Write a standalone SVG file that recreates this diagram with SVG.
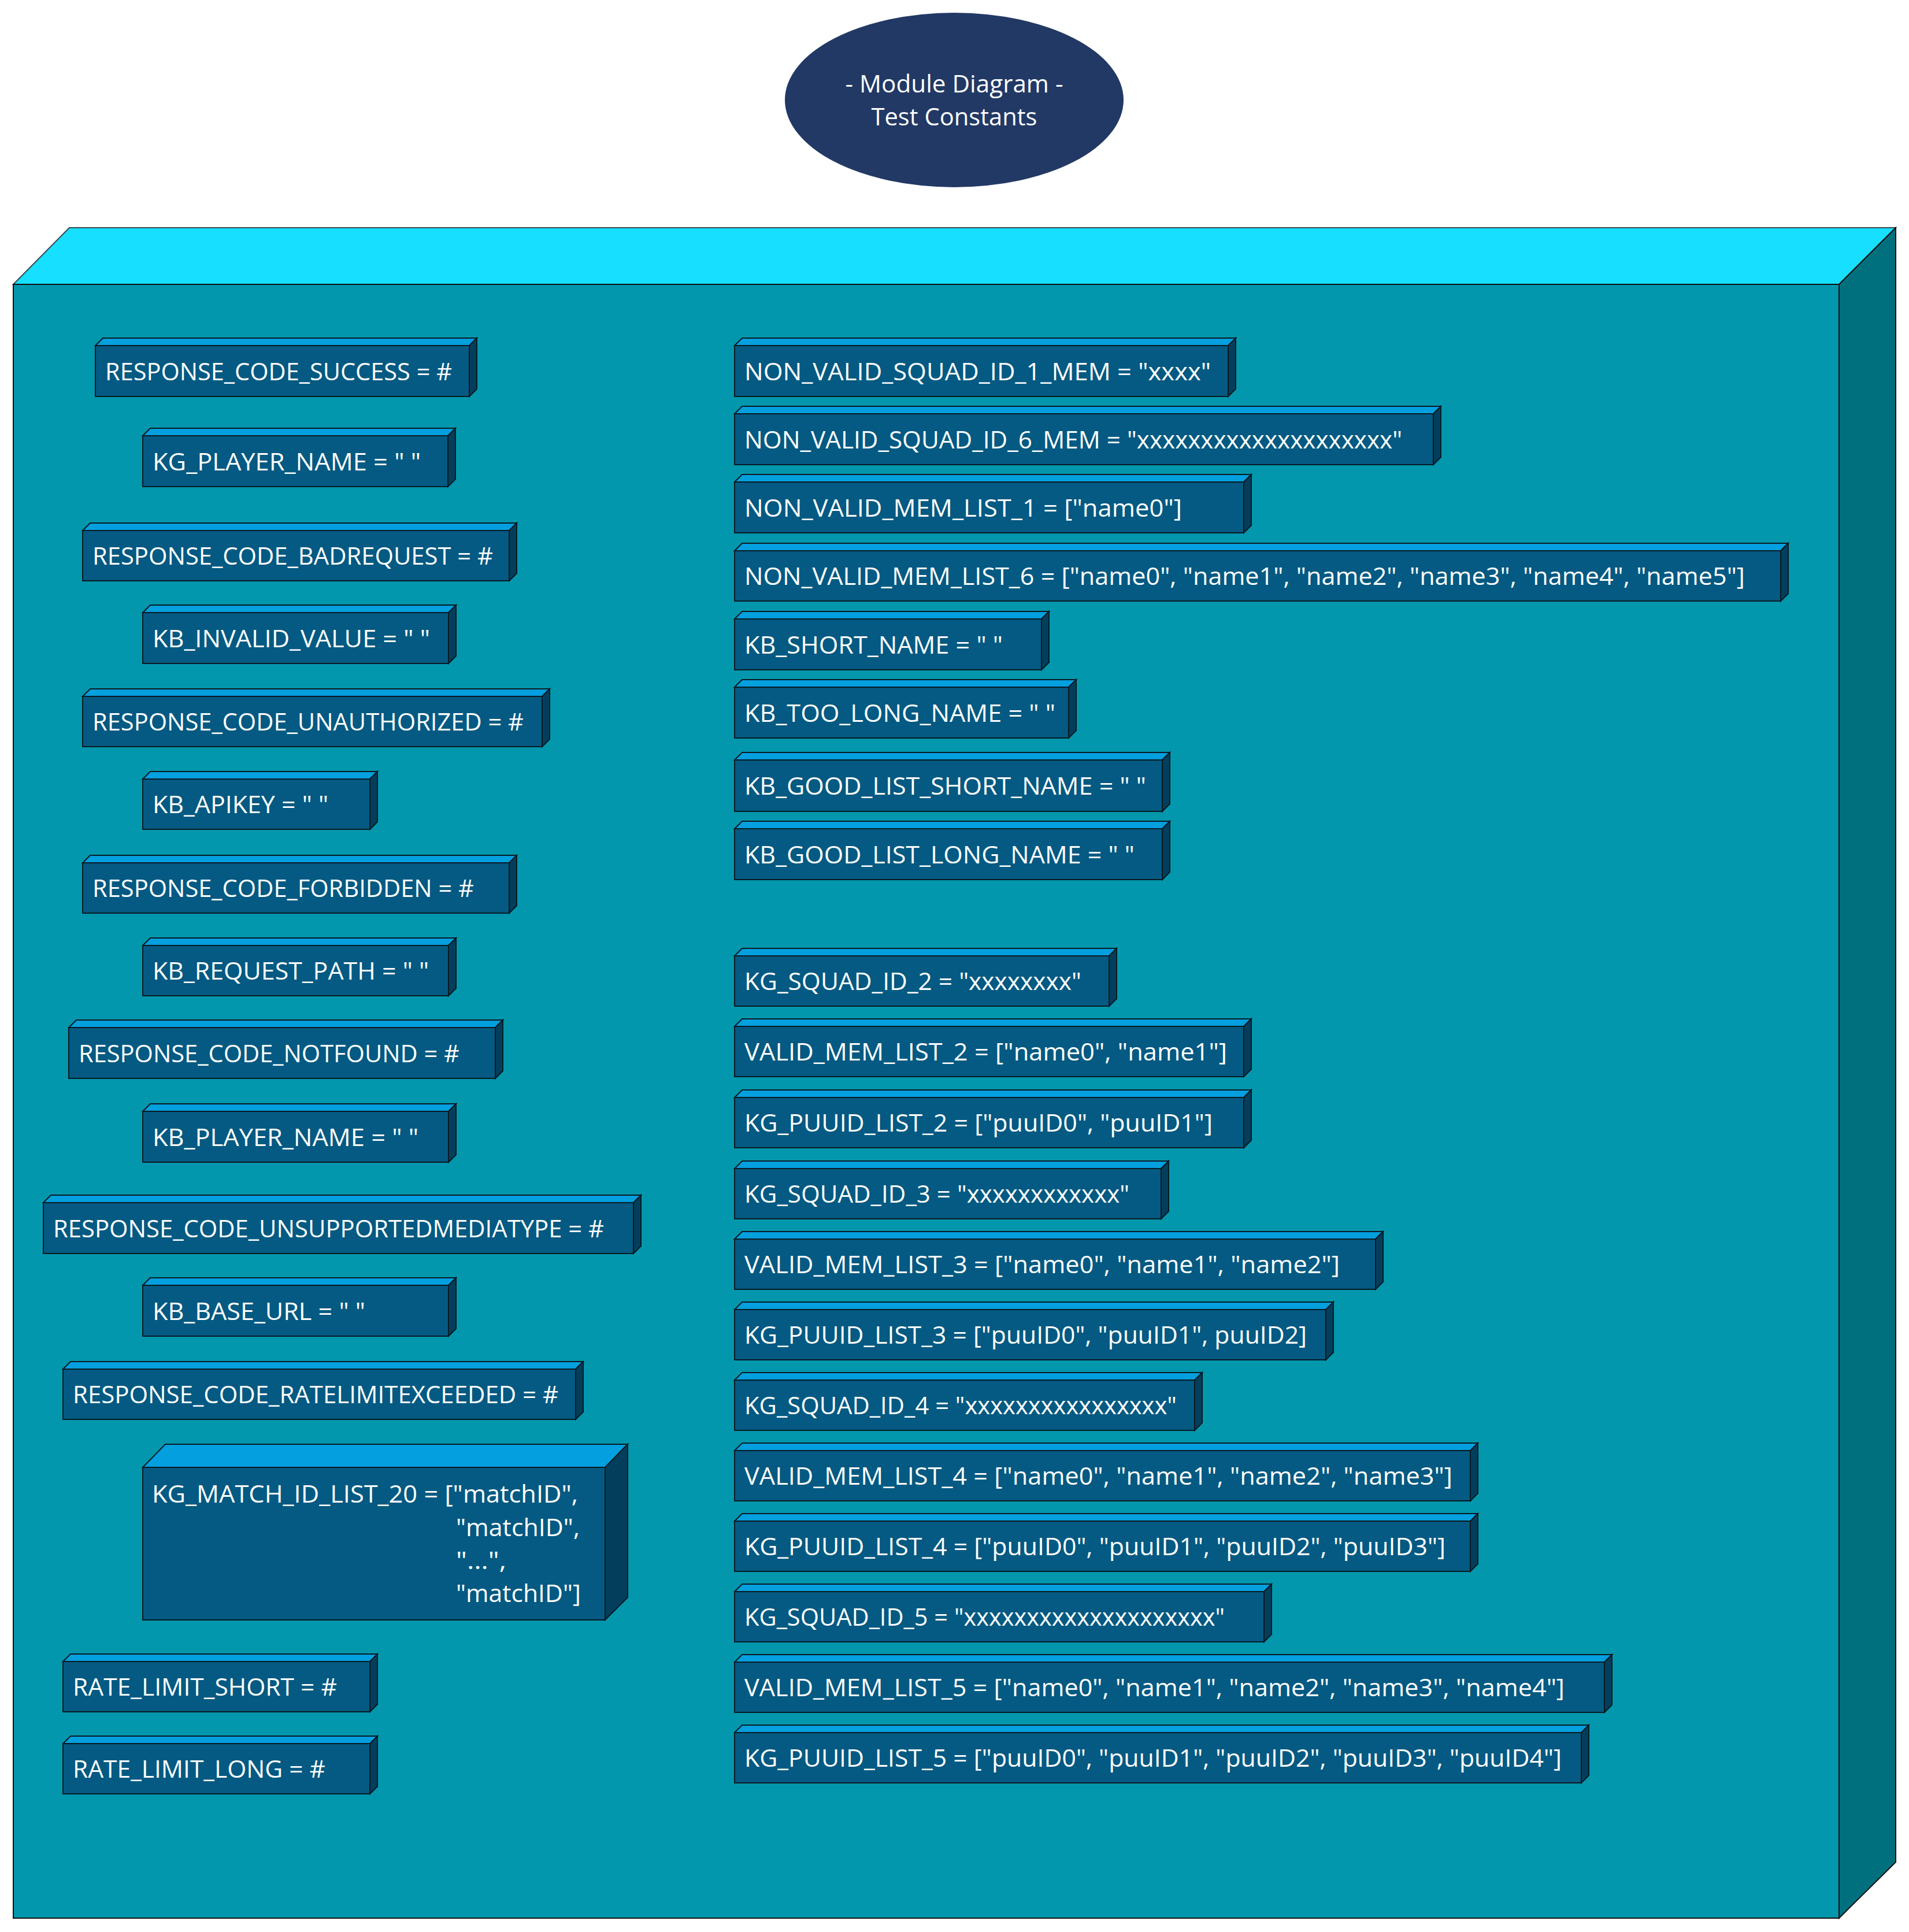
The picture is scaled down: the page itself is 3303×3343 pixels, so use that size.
<svg xmlns="http://www.w3.org/2000/svg" width="3303" height="3343" viewBox="0 0 3303 3343">
<style>
.bt{fill:#17DFFF;stroke:#3a4a4f;stroke-width:2}
.bf{fill:#0397AD;stroke:#111;stroke-width:2}
.bs{fill:#01707E;stroke:#111;stroke-width:2}
.f{fill:#045A82;stroke:#0a1a22;stroke-width:2}
.tp{fill:#039FDE;stroke:#0a1a22;stroke-width:2}
.sd{fill:#033F5C;stroke:#0a1a22;stroke-width:2}
.t{font-family:"Open Sans","Noto Sans","Liberation Sans",sans-serif;font-size:42px;fill:#fff;white-space:pre}
</style>
<rect width="3303" height="3343" fill="#fff"/>
<g id="title">
<ellipse cx="1651" cy="173" rx="293" ry="151" fill="#223965"/>
<text class="t" x="1651" y="160" text-anchor="middle" textLength="377" lengthAdjust="spacingAndGlyphs">- Module Diagram -</text>
<text class="t" x="1651" y="217" text-anchor="middle" textLength="287" lengthAdjust="spacingAndGlyphs">Test Constants</text>
</g>
<g id="module">
<polygon class="bt" points="23,492 120,394 3280,394 3182,492"/>
<polygon class="bs" points="3182,492 3280,394 3280,3222 3182,3319"/>
<rect class="bf" x="23" y="492" width="3159" height="2827"/>
</g>
<g id="connectors"></g>
<g id="n_response_code_success">
<polygon class="tp" points="165,598 178,585 825,585 812,598"/><polygon class="sd" points="812,598 825,585 825,673 812,686"/><rect class="f" x="165" y="598" width="647" height="88"/>
<text class="t" x="182" y="658" textLength="600" lengthAdjust="spacingAndGlyphs">RESPONSE_CODE_SUCCESS = #</text>
</g>
<g id="n_kg_player_name">
<polygon class="tp" points="247,754 260,741 788,741 775,754"/><polygon class="sd" points="775,754 788,741 788,829 775,842"/><rect class="f" x="247" y="754" width="528" height="88"/>
<text class="t" x="264" y="814" textLength="464" lengthAdjust="spacingAndGlyphs">KG_PLAYER_NAME = " "</text>
</g>
<g id="n_response_code_badrequest">
<polygon class="tp" points="143,918 156,905 894,905 881,918"/><polygon class="sd" points="881,918 894,905 894,992 881,1005"/><rect class="f" x="143" y="918" width="738" height="87"/>
<text class="t" x="160" y="977" textLength="693" lengthAdjust="spacingAndGlyphs">RESPONSE_CODE_BADREQUEST = #</text>
</g>
<g id="n_kb_invalid_value">
<polygon class="tp" points="247,1060 260,1047 789,1047 776,1060"/><polygon class="sd" points="776,1060 789,1047 789,1135 776,1148"/><rect class="f" x="247" y="1060" width="529" height="88"/>
<text class="t" x="264" y="1120" textLength="480" lengthAdjust="spacingAndGlyphs">KB_INVALID_VALUE = " "</text>
</g>
<g id="n_response_code_unauthorized">
<polygon class="tp" points="143,1205 156,1192 951,1192 938,1205"/><polygon class="sd" points="938,1205 951,1192 951,1279 938,1292"/><rect class="f" x="143" y="1205" width="795" height="87"/>
<text class="t" x="160" y="1264" textLength="746" lengthAdjust="spacingAndGlyphs">RESPONSE_CODE_UNAUTHORIZED = #</text>
</g>
<g id="n_kb_apikey">
<polygon class="tp" points="247,1348 260,1335 653,1335 640,1348"/><polygon class="sd" points="640,1348 653,1335 653,1422 640,1435"/><rect class="f" x="247" y="1348" width="393" height="87"/>
<text class="t" x="264" y="1407" textLength="304" lengthAdjust="spacingAndGlyphs">KB_APIKEY = " "</text>
</g>
<g id="n_response_code_forbidden">
<polygon class="tp" points="143,1493 156,1480 894,1480 881,1493"/><polygon class="sd" points="881,1493 894,1480 894,1567 881,1580"/><rect class="f" x="143" y="1493" width="738" height="87"/>
<text class="t" x="160" y="1552" textLength="660" lengthAdjust="spacingAndGlyphs">RESPONSE_CODE_FORBIDDEN = #</text>
</g>
<g id="n_kb_request_path">
<polygon class="tp" points="247,1636 260,1623 789,1623 776,1636"/><polygon class="sd" points="776,1636 789,1623 789,1710 776,1723"/><rect class="f" x="247" y="1636" width="529" height="87"/>
<text class="t" x="264" y="1695" textLength="478" lengthAdjust="spacingAndGlyphs">KB_REQUEST_PATH = " "</text>
</g>
<g id="n_response_code_notfound">
<polygon class="tp" points="119,1778 132,1765 870,1765 857,1778"/><polygon class="sd" points="857,1778 870,1765 870,1853 857,1866"/><rect class="f" x="119" y="1778" width="738" height="88"/>
<text class="t" x="136" y="1838" textLength="659" lengthAdjust="spacingAndGlyphs">RESPONSE_CODE_NOTFOUND = #</text>
</g>
<g id="n_kb_player_name">
<polygon class="tp" points="247,1923 260,1910 789,1910 776,1923"/><polygon class="sd" points="776,1923 789,1910 789,1998 776,2011"/><rect class="f" x="247" y="1923" width="529" height="88"/>
<text class="t" x="264" y="1983" textLength="460" lengthAdjust="spacingAndGlyphs">KB_PLAYER_NAME = " "</text>
</g>
<g id="n_response_code_unsupportedmediatype">
<polygon class="tp" points="75,2081 88,2068 1109,2068 1096,2081"/><polygon class="sd" points="1096,2081 1109,2068 1109,2156 1096,2169"/><rect class="f" x="75" y="2081" width="1021" height="88"/>
<text class="t" x="92" y="2141" textLength="953" lengthAdjust="spacingAndGlyphs">RESPONSE_CODE_UNSUPPORTEDMEDIATYPE = #</text>
</g>
<g id="n_kb_base_url">
<polygon class="tp" points="247,2224 260,2211 789,2211 776,2224"/><polygon class="sd" points="776,2224 789,2211 789,2299 776,2312"/><rect class="f" x="247" y="2224" width="529" height="88"/>
<text class="t" x="264" y="2284" textLength="368" lengthAdjust="spacingAndGlyphs">KB_BASE_URL = " "</text>
</g>
<g id="n_response_code_ratelimitexceeded">
<polygon class="tp" points="109,2369 122,2356 1009,2356 996,2369"/><polygon class="sd" points="996,2369 1009,2356 1009,2443 996,2456"/><rect class="f" x="109" y="2369" width="887" height="87"/>
<text class="t" x="126" y="2428" textLength="840" lengthAdjust="spacingAndGlyphs">RESPONSE_CODE_RATELIMITEXCEEDED = #</text>
</g>
<g id="n_kg_match_id_list_20">
<polygon class="tp" points="247,2539 286,2499 1086,2499 1047,2539"/><polygon class="sd" points="1047,2539 1086,2499 1086,2764 1047,2803"/><rect class="f" x="247" y="2539" width="800" height="264"/>
<text class="t" x="263" y="2600" textLength="737" lengthAdjust="spacingAndGlyphs">KG_MATCH_ID_LIST_20 = ["matchID",</text>
<text class="t" x="789" y="2658" textLength="214" lengthAdjust="spacingAndGlyphs">"matchID",</text>
<text class="t" x="789" y="2715" textLength="87" lengthAdjust="spacingAndGlyphs">"…",</text>
<text class="t" x="789" y="2772" textLength="216" lengthAdjust="spacingAndGlyphs">"matchID"]</text>
</g>
<g id="n_rate_limit_short">
<polygon class="tp" points="109,2875 122,2862 653,2862 640,2875"/><polygon class="sd" points="640,2875 653,2862 653,2949 640,2962"/><rect class="f" x="109" y="2875" width="531" height="87"/>
<text class="t" x="126" y="2934" textLength="457" lengthAdjust="spacingAndGlyphs">RATE_LIMIT_SHORT = #</text>
</g>
<g id="n_rate_limit_long">
<polygon class="tp" points="109,3017 122,3004 653,3004 640,3017"/><polygon class="sd" points="640,3017 653,3004 653,3091 640,3104"/><rect class="f" x="109" y="3017" width="531" height="87"/>
<text class="t" x="126" y="3076" textLength="437" lengthAdjust="spacingAndGlyphs">RATE_LIMIT_LONG = #</text>
</g>
<g id="n_non_valid_squad_id_1_mem">
<polygon class="tp" points="1271,598 1284,585 2138,585 2125,598"/><polygon class="sd" points="2125,598 2138,585 2138,673 2125,686"/><rect class="f" x="1271" y="598" width="854" height="88"/>
<text class="t" x="1288" y="658" textLength="807" lengthAdjust="spacingAndGlyphs">NON_VALID_SQUAD_ID_1_MEM = "xxxx"</text>
</g>
<g id="n_non_valid_squad_id_6_mem">
<polygon class="tp" points="1271,716 1284,703 2493,703 2480,716"/><polygon class="sd" points="2480,716 2493,703 2493,791 2480,804"/><rect class="f" x="1271" y="716" width="1209" height="88"/>
<text class="t" x="1288" y="776" textLength="1138" lengthAdjust="spacingAndGlyphs">NON_VALID_SQUAD_ID_6_MEM = "xxxxxxxxxxxxxxxxxxxx"</text>
</g>
<g id="n_non_valid_mem_list_1">
<polygon class="tp" points="1271,834 1284,821 2165,821 2152,834"/><polygon class="sd" points="2152,834 2165,821 2165,909 2152,922"/><rect class="f" x="1271" y="834" width="881" height="88"/>
<text class="t" x="1288" y="894" textLength="757" lengthAdjust="spacingAndGlyphs">NON_VALID_MEM_LIST_1 = ["name0"]</text>
</g>
<g id="n_non_valid_mem_list_6">
<polygon class="tp" points="1271,953 1284,940 3094,940 3081,953"/><polygon class="sd" points="3081,953 3094,940 3094,1027 3081,1040"/><rect class="f" x="1271" y="953" width="1810" height="87"/>
<text class="t" x="1288" y="1012" textLength="1731" lengthAdjust="spacingAndGlyphs">NON_VALID_MEM_LIST_6 = ["name0", "name1", "name2", "name3", "name4", "name5"]</text>
</g>
<g id="n_kb_short_name">
<polygon class="tp" points="1271,1071 1284,1058 1815,1058 1802,1071"/><polygon class="sd" points="1802,1071 1815,1058 1815,1146 1802,1159"/><rect class="f" x="1271" y="1071" width="531" height="88"/>
<text class="t" x="1288" y="1131" textLength="447" lengthAdjust="spacingAndGlyphs">KB_SHORT_NAME = " "</text>
</g>
<g id="n_kb_too_long_name">
<polygon class="tp" points="1271,1189 1284,1176 1862,1176 1849,1189"/><polygon class="sd" points="1849,1189 1862,1176 1862,1264 1849,1277"/><rect class="f" x="1271" y="1189" width="578" height="88"/>
<text class="t" x="1288" y="1249" textLength="538" lengthAdjust="spacingAndGlyphs">KB_TOO_LONG_NAME = " "</text>
</g>
<g id="n_kb_good_list_short_name">
<polygon class="tp" points="1271,1315 1284,1302 2024,1302 2011,1315"/><polygon class="sd" points="2011,1315 2024,1302 2024,1391 2011,1404"/><rect class="f" x="1271" y="1315" width="740" height="89"/>
<text class="t" x="1288" y="1375" textLength="695" lengthAdjust="spacingAndGlyphs">KB_GOOD_LIST_SHORT_NAME = " "</text>
</g>
<g id="n_kb_good_list_long_name">
<polygon class="tp" points="1271,1434 1284,1421 2024,1421 2011,1434"/><polygon class="sd" points="2011,1434 2024,1421 2024,1509 2011,1522"/><rect class="f" x="1271" y="1434" width="740" height="88"/>
<text class="t" x="1288" y="1494" textLength="675" lengthAdjust="spacingAndGlyphs">KB_GOOD_LIST_LONG_NAME = " "</text>
</g>
<g id="n_kg_squad_id_2">
<polygon class="tp" points="1271,1654 1284,1641 1932,1641 1919,1654"/><polygon class="sd" points="1919,1654 1932,1641 1932,1728 1919,1741"/><rect class="f" x="1271" y="1654" width="648" height="87"/>
<text class="t" x="1288" y="1713" textLength="583" lengthAdjust="spacingAndGlyphs">KG_SQUAD_ID_2 = "xxxxxxxx"</text>
</g>
<g id="n_valid_mem_list_2">
<polygon class="tp" points="1271,1776 1284,1763 2165,1763 2152,1776"/><polygon class="sd" points="2152,1776 2165,1763 2165,1850 2152,1863"/><rect class="f" x="1271" y="1776" width="881" height="87"/>
<text class="t" x="1288" y="1835" textLength="835" lengthAdjust="spacingAndGlyphs">VALID_MEM_LIST_2 = ["name0", "name1"]</text>
</g>
<g id="n_kg_puuid_list_2">
<polygon class="tp" points="1271,1899 1284,1886 2165,1886 2152,1899"/><polygon class="sd" points="2152,1899 2165,1886 2165,1973 2152,1986"/><rect class="f" x="1271" y="1899" width="881" height="87"/>
<text class="t" x="1288" y="1958" textLength="810" lengthAdjust="spacingAndGlyphs">KG_PUUID_LIST_2 = ["puuID0", "puuID1"]</text>
</g>
<g id="n_kg_squad_id_3">
<polygon class="tp" points="1271,2022 1284,2009 2022,2009 2009,2022"/><polygon class="sd" points="2009,2022 2022,2009 2022,2096 2009,2109"/><rect class="f" x="1271" y="2022" width="738" height="87"/>
<text class="t" x="1288" y="2081" textLength="666" lengthAdjust="spacingAndGlyphs">KG_SQUAD_ID_3 = "xxxxxxxxxxxx"</text>
</g>
<g id="n_valid_mem_list_3">
<polygon class="tp" points="1271,2144 1284,2131 2393,2131 2380,2144"/><polygon class="sd" points="2380,2144 2393,2131 2393,2218 2380,2231"/><rect class="f" x="1271" y="2144" width="1109" height="87"/>
<text class="t" x="1288" y="2203" textLength="1030" lengthAdjust="spacingAndGlyphs">VALID_MEM_LIST_3 = ["name0", "name1", "name2"]</text>
</g>
<g id="n_kg_puuid_list_3">
<polygon class="tp" points="1271,2266 1284,2253 2307,2253 2294,2266"/><polygon class="sd" points="2294,2266 2307,2253 2307,2340 2294,2353"/><rect class="f" x="1271" y="2266" width="1023" height="87"/>
<text class="t" x="1288" y="2325" textLength="973" lengthAdjust="spacingAndGlyphs">KG_PUUID_LIST_3 = ["puuID0", "puuID1", puuID2]</text>
</g>
<g id="n_kg_squad_id_4">
<polygon class="tp" points="1271,2388 1284,2375 2080,2375 2067,2388"/><polygon class="sd" points="2067,2388 2080,2375 2080,2462 2067,2475"/><rect class="f" x="1271" y="2388" width="796" height="87"/>
<text class="t" x="1288" y="2447" textLength="748" lengthAdjust="spacingAndGlyphs">KG_SQUAD_ID_4 = "xxxxxxxxxxxxxxxx"</text>
</g>
<g id="n_valid_mem_list_4">
<polygon class="tp" points="1271,2510 1284,2497 2557,2497 2544,2510"/><polygon class="sd" points="2544,2510 2557,2497 2557,2584 2544,2597"/><rect class="f" x="1271" y="2510" width="1273" height="87"/>
<text class="t" x="1288" y="2569" textLength="1225" lengthAdjust="spacingAndGlyphs">VALID_MEM_LIST_4 = ["name0", "name1", "name2", "name3"]</text>
</g>
<g id="n_kg_puuid_list_4">
<polygon class="tp" points="1271,2632 1284,2619 2557,2619 2544,2632"/><polygon class="sd" points="2544,2632 2557,2619 2557,2706 2544,2719"/><rect class="f" x="1271" y="2632" width="1273" height="87"/>
<text class="t" x="1288" y="2691" textLength="1213" lengthAdjust="spacingAndGlyphs">KG_PUUID_LIST_4 = ["puuID0", "puuID1", "puuID2", "puuID3"]</text>
</g>
<g id="n_kg_squad_id_5">
<polygon class="tp" points="1271,2754 1284,2741 2200,2741 2187,2754"/><polygon class="sd" points="2187,2754 2200,2741 2200,2828 2187,2841"/><rect class="f" x="1271" y="2754" width="916" height="87"/>
<text class="t" x="1288" y="2813" textLength="831" lengthAdjust="spacingAndGlyphs">KG_SQUAD_ID_5 = "xxxxxxxxxxxxxxxxxxxx"</text>
</g>
<g id="n_valid_mem_list_5">
<polygon class="tp" points="1271,2876 1284,2863 2789,2863 2776,2876"/><polygon class="sd" points="2776,2876 2789,2863 2789,2950 2776,2963"/><rect class="f" x="1271" y="2876" width="1505" height="87"/>
<text class="t" x="1288" y="2935" textLength="1419" lengthAdjust="spacingAndGlyphs">VALID_MEM_LIST_5 = ["name0", "name1", "name2", "name3", "name4"]</text>
</g>
<g id="n_kg_puuid_list_5">
<polygon class="tp" points="1271,2998 1284,2985 2749,2985 2736,2998"/><polygon class="sd" points="2736,2998 2749,2985 2749,3072 2736,3085"/><rect class="f" x="1271" y="2998" width="1465" height="87"/>
<text class="t" x="1288" y="3057" textLength="1414" lengthAdjust="spacingAndGlyphs">KG_PUUID_LIST_5 = ["puuID0", "puuID1", "puuID2", "puuID3", "puuID4"]</text>
</g>
</svg>
